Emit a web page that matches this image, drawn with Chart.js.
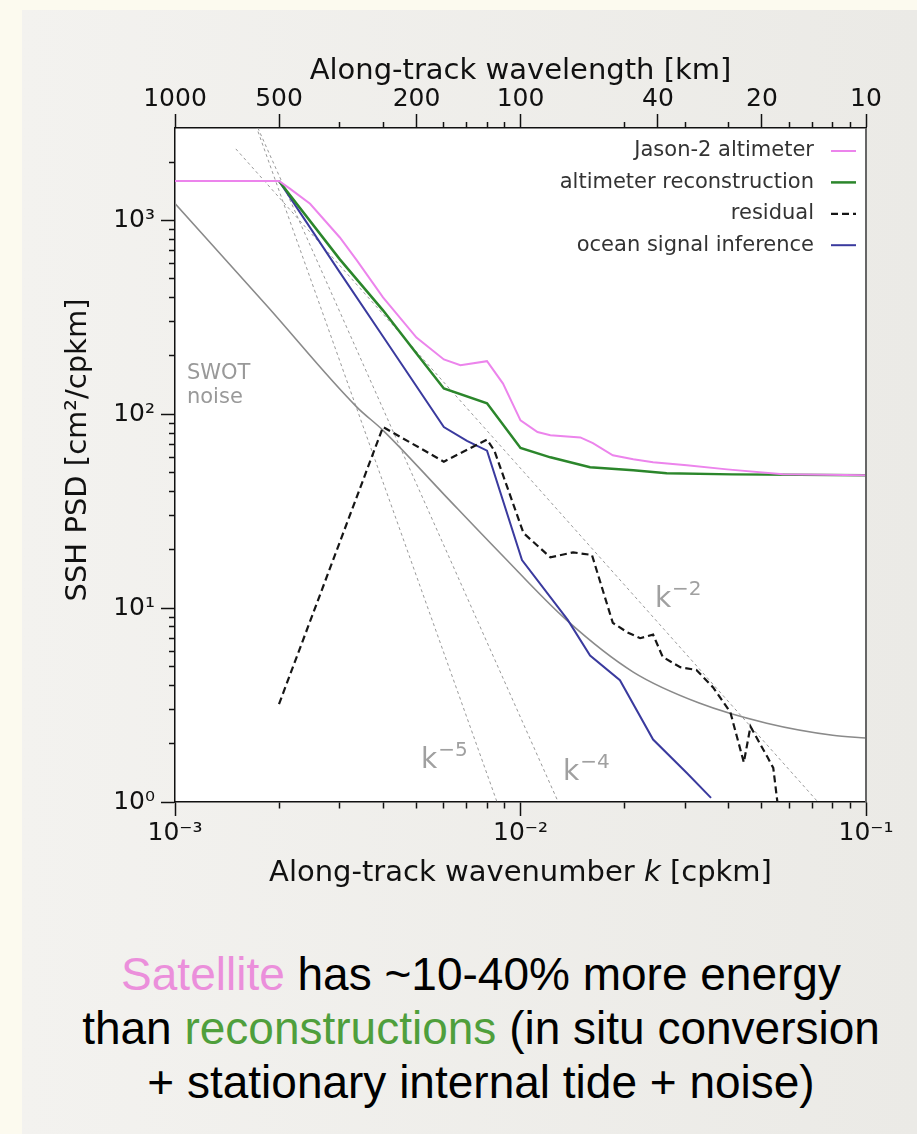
<!DOCTYPE html>
<html>
<head>
<meta charset="utf-8">
<script src="https://cdn.jsdelivr.net/npm/chart.js"></script>
<style>
  html, body { margin: 0; padding: 0; }
  body { width: 917px; height: 1134px; background: #fcfaef; position: relative; overflow: hidden; }
  #panel { position: absolute; left: 22px; top: 10px; right: 0; bottom: 0; background: linear-gradient(90deg, #f3f2ef, #ebeae6); }
  #chartBox { position: absolute; left: 0; top: 0; width: 917px; height: 900px; }
  #caption { position: absolute; left: 0; top: 947px; width: 962px; text-align: center;
             font-family: "Liberation Sans", Arial, sans-serif; font-size: 46px; line-height: 54px; color: #000; }
</style>
</head>
<body>
<div id="panel"></div>
<div id="chartBox"><canvas id="psdChart"></canvas></div>
<div id="caption"><span style="color:#eb8fdb">Satellite</span> has ~10-40% more energy<br>than <span style="color:#4f9f3c">reconstructions</span> (in situ conversion<br>+ stationary internal tide + noise)</div>

<script>
// Espectros: número de onda k [cpkm] e PSD [cm²/cpkm]
const jasonK = [0.001, 0.002, 0.00215, 0.00246, 0.003, 0.00336, 0.004, 0.005, 0.006, 0.0067, 0.008, 0.0089, 0.010, 0.0112, 0.0122, 0.0149, 0.0162, 0.0185, 0.0212, 0.0242, 0.0303, 0.0396, 0.0575, 0.1];
const jasonPsd = [1600, 1600, 1460, 1220, 817, 622, 401, 249, 192, 179, 188, 144, 93, 81, 78, 76, 71, 61.5, 58.6, 56.6, 54.6, 52, 49.1, 48.5];

const reconK = [0.002, 0.003, 0.004, 0.005, 0.006, 0.008, 0.010, 0.0122, 0.0159, 0.0212, 0.0265, 0.041, 0.1];
const reconPsd = [1600, 630, 344, 206, 136, 114, 67, 60, 53.3, 51.4, 49.6, 49, 48.5];

const residualK = [0.002, 0.004, 0.006, 0.008, 0.0084, 0.0102, 0.0122, 0.0142, 0.0161, 0.0185, 0.0204, 0.0222, 0.0242, 0.0258, 0.029, 0.0323, 0.0361, 0.0405, 0.0443, 0.0463, 0.0519, 0.0539, 0.0554];
const residualPsd = [3.2, 86, 57, 74, 65, 24.4, 18.3, 19.4, 18.8, 8.4, 7.5, 7.0, 7.3, 5.6, 4.96, 4.8, 3.9, 2.9, 1.6, 2.45, 1.7, 1.5, 1.0];

const oceanK = [0.002, 0.003, 0.004, 0.006, 0.007, 0.008, 0.0101, 0.0137, 0.0159, 0.0194, 0.0242, 0.0303, 0.0356];
const oceanPsd = [1600, 540, 252, 86, 73, 65, 17.7, 8.7, 5.7, 4.25, 2.1, 1.41, 1.05];

const noiseK = [0.001, 0.00185, 0.00336, 0.004, 0.00604, 0.00874, 0.0136, 0.0212, 0.0329, 0.0516, 0.0801, 0.1];
const noisePsd = [1224, 361, 109, 82.7, 38.2, 19.2, 8.67, 4.68, 3.24, 2.55, 2.21, 2.14];

// retas de referência k^-2, k^-4, k^-5 (extremos)
const guideK = [0.0015, 0.1];
const guideK2 = [2340, 0.527];
const guideK4 = [5400, 0.000273];
const guideK5 = [6020, 0.00000457];

// Ticks
const xMajorTicks = [0.001, 0.01, 0.1];
const xMajorLabels = ['10⁻³', '10⁻²', '10⁻¹'];
const xMinorTicks = [0.002, 0.003, 0.004, 0.005, 0.006, 0.007, 0.008, 0.009, 0.02, 0.03, 0.04, 0.05, 0.06, 0.07, 0.08, 0.09];
const yMajorTicks = [1, 10, 100, 1000];
const yMajorLabels = ['10⁰', '10¹', '10²', '10³'];
const yMinorTicks = [2, 3, 4, 5, 6, 7, 8, 9, 20, 30, 40, 50, 60, 70, 80, 90, 200, 300, 400, 500, 600, 700, 800, 900, 2000];
const topMajorKm = [1000, 500, 200, 100, 40, 20, 10];
const topMinorK = [0.003, 0.004, 0.006, 0.007, 0.008, 0.009, 0.02, 0.03, 0.04, 0.06, 0.07, 0.08, 0.09];

const legendLabels = ['Jason-2 altimeter', 'altimeter reconstruction', 'residual', 'ocean signal inference'];

const FONT = '"DejaVu Sans"';
const toPoints = (ks, vs) => ks.map((k, i) => ({ x: k, y: vs[i] }));
const topMajorK = topMajorKm.map(km => 1 / km);

const buildTicks = (majors, minors) => majors.concat(minors).map(v => ({ value: v }));

const tickGrid = (majors, outerStart) => ({
    drawOnChartArea: false,
    drawTicks: true,
    tickLength: 14,
    tickColor: '#111',
    tickWidth: 1.5,
    // ticks menores mais curtos (dash só no trecho junto ao eixo)
    tickBorderDash: (c) => {
        if (!c.tick || majors.includes(c.tick.value)) return [];
        return outerStart ? [0, 8, 6, 100] : [6, 100];
    }
});

// fundo branco da área do gráfico + moldura direita
const framePlugin = {
    id: 'frame',
    beforeDraw(chart) {
        const a = chart.chartArea;
        const ctx = chart.ctx;
        ctx.save();
        ctx.fillStyle = '#ffffff';
        ctx.fillRect(a.left, a.top, a.right - a.left, a.bottom - a.top);
        ctx.restore();
    },
    afterDraw(chart) {
        const a = chart.chartArea;
        const ctx = chart.ctx;
        ctx.save();
        ctx.strokeStyle = '#666';
        ctx.lineWidth = 2;
        ctx.beginPath();
        ctx.moveTo(a.right, a.top);
        ctx.lineTo(a.right, a.bottom);
        ctx.stroke();
        ctx.restore();
    }
};

// títulos dos eixos, legenda e anotações
const textPlugin = {
    id: 'texts',
    afterDraw(chart) {
        const { ctx, chartArea: a } = chart;
        const xs = chart.scales.x, ys = chart.scales.y;
        const cx = (a.left + a.right) / 2;
        ctx.save();
        ctx.fillStyle = '#111';
        ctx.textBaseline = 'alphabetic';

        // título de cima
        ctx.font = `29px ${FONT}`;
        ctx.textAlign = 'center';
        ctx.fillText('Along-track wavelength [km]', cx, 79);

        // título de baixo com k itálico
        const p1 = 'Along-track wavenumber ', p2 = 'k', p3 = ' [cpkm]';
        ctx.textAlign = 'left';
        ctx.font = `29px ${FONT}`;
        const w1 = ctx.measureText(p1).width, w3 = ctx.measureText(p3).width;
        ctx.font = `italic 29px ${FONT}`;
        const w2 = ctx.measureText(p2).width;
        let x0 = cx - (w1 + w2 + w3) / 2;
        ctx.font = `29px ${FONT}`;
        ctx.fillText(p1, x0, 881);
        ctx.font = `italic 29px ${FONT}`;
        ctx.fillText(p2, x0 + w1, 881);
        ctx.font = `29px ${FONT}`;
        ctx.fillText(p3, x0 + w1 + w2, 881);

        // título do eixo y
        ctx.save();
        ctx.translate(86, 450);
        ctx.rotate(-Math.PI / 2);
        ctx.textAlign = 'center';
        ctx.fillText('SSH PSD [cm²/cpkm]', 0, 0);
        ctx.restore();

        // legenda
        ctx.font = `21px ${FONT}`;
        ctx.textAlign = 'right';
        ctx.textBaseline = 'middle';
        chart.data.datasets.slice(0, legendLabels.length).forEach((ds, i) => {
            const y = a.top + 23 + i * 31.4;
            ctx.fillStyle = '#333';
            ctx.fillText(ds.label, a.right - 52, y);
            ctx.save();
            ctx.strokeStyle = ds.borderColor;
            ctx.lineWidth = ds.borderWidth;
            ctx.setLineDash(ds.borderDash || []);
            ctx.beginPath();
            ctx.moveTo(a.right - 35, y);
            ctx.lineTo(a.right - 10, y);
            ctx.stroke();
            ctx.restore();
        });

        // anotações
        ctx.textBaseline = 'alphabetic';
        ctx.textAlign = 'left';
        ctx.fillStyle = '#999';
        ctx.font = `21px ${FONT}`;
        ctx.fillText('SWOT', xs.getPixelForValue(0.001083), ys.getPixelForValue(153));
        ctx.fillText('noise', xs.getPixelForValue(0.001083), ys.getPixelForValue(115));

        const powerLabel = (exp, k, p) => {
            const px = xs.getPixelForValue(k), py = ys.getPixelForValue(p);
            ctx.font = `28px ${FONT}`;
            ctx.fillText('k', px, py);
            const kw = ctx.measureText('k').width;
            ctx.font = `20px ${FONT}`;
            ctx.fillText('\u2212' + exp, px + kw + 1, py - 12);
        };
        ctx.fillStyle = '#a0a0a0';
        powerLabel('2', 0.02449, 10.1);
        powerLabel('4', 0.01328, 1.30);
        powerLabel('5', 0.00515, 1.50);
        ctx.restore();
    }
};

Chart.defaults.font.family = 'DejaVu Sans';

new Chart(document.getElementById('psdChart'), {
    type: 'line',
    data: {
        datasets: [
            { label: legendLabels[0], data: toPoints(jasonK, jasonPsd), borderColor: '#ec84ec', borderWidth: 2 },
            { label: legendLabels[1], data: toPoints(reconK, reconPsd), borderColor: '#2b862b', borderWidth: 2.5 },
            { label: legendLabels[2], data: toPoints(residualK, residualPsd), borderColor: '#161616', borderWidth: 2.2, borderDash: [7, 4] },
            { label: legendLabels[3], data: toPoints(oceanK, oceanPsd), borderColor: '#3a3a9e', borderWidth: 2 },
            { label: 'SWOT noise', data: toPoints(noiseK, noisePsd), borderColor: '#8a8a8a', borderWidth: 1.6, cubicInterpolationMode: 'monotone' },
            { label: 'k-2', data: toPoints(guideK, guideK2), borderColor: '#9a9a9a', borderWidth: 1, borderDash: [3, 3] },
            { label: 'k-4', data: toPoints(guideK, guideK4), borderColor: '#9a9a9a', borderWidth: 1, borderDash: [3, 3] },
            { label: 'k-5', data: toPoints(guideK, guideK5), borderColor: '#9a9a9a', borderWidth: 1, borderDash: [3, 3] }
        ]
    },
    options: {
        responsive: true,
        maintainAspectRatio: false,
        animation: false,
        layout: { padding: { left: 0, top: 0, right: 51, bottom: 0 } },
        elements: {
            point: { radius: 0 },
            line: { tension: 0, fill: false }
        },
        plugins: {
            legend: { display: false },
            tooltip: { enabled: false }
        },
        scales: {
            x: {
                type: 'logarithmic',
                position: 'bottom',
                min: 0.001,
                max: 0.1,
                afterBuildTicks: (s) => { s.ticks = buildTicks(xMajorTicks, xMinorTicks); },
                afterFit: (s) => { s.height = 98; },
                ticks: {
                    autoSkip: false,
                    maxRotation: 0,
                    padding: 2,
                    color: '#111',
                    font: { size: 25 },
                    callback: (v) => {
                        const i = xMajorTicks.indexOf(v);
                        return i >= 0 ? xMajorLabels[i] : '';
                    }
                },
                grid: tickGrid(xMajorTicks, false),
                border: { color: '#111', width: 1.5 }
            },
            xTop: {
                type: 'logarithmic',
                position: 'top',
                min: 0.001,
                max: 0.1,
                afterBuildTicks: (s) => { s.ticks = buildTicks(topMajorK, topMinorK); },
                afterFit: (s) => { s.height = 128; },
                ticks: {
                    autoSkip: false,
                    maxRotation: 0,
                    padding: 0,
                    color: '#111',
                    font: { size: 25 },
                    callback: (v) => {
                        const i = topMajorK.indexOf(v);
                        return i >= 0 ? String(topMajorKm[i]) : '';
                    }
                },
                grid: tickGrid(topMajorK, true),
                border: { color: '#111', width: 1.5 }
            },
            y: {
                type: 'logarithmic',
                position: 'left',
                min: 1,
                max: 3000,
                afterBuildTicks: (s) => { s.ticks = buildTicks(yMajorTicks, yMinorTicks); },
                afterFit: (s) => { s.width = 175; },
                ticks: {
                    autoSkip: false,
                    padding: 6,
                    color: '#111',
                    font: { size: 25 },
                    callback: (v) => {
                        const i = yMajorTicks.indexOf(v);
                        return i >= 0 ? yMajorLabels[i] : '';
                    }
                },
                grid: tickGrid(yMajorTicks, true),
                border: { color: '#111', width: 1.5 }
            }
        }
    },
    plugins: [framePlugin, textPlugin]
});
</script>
</body>
</html>
